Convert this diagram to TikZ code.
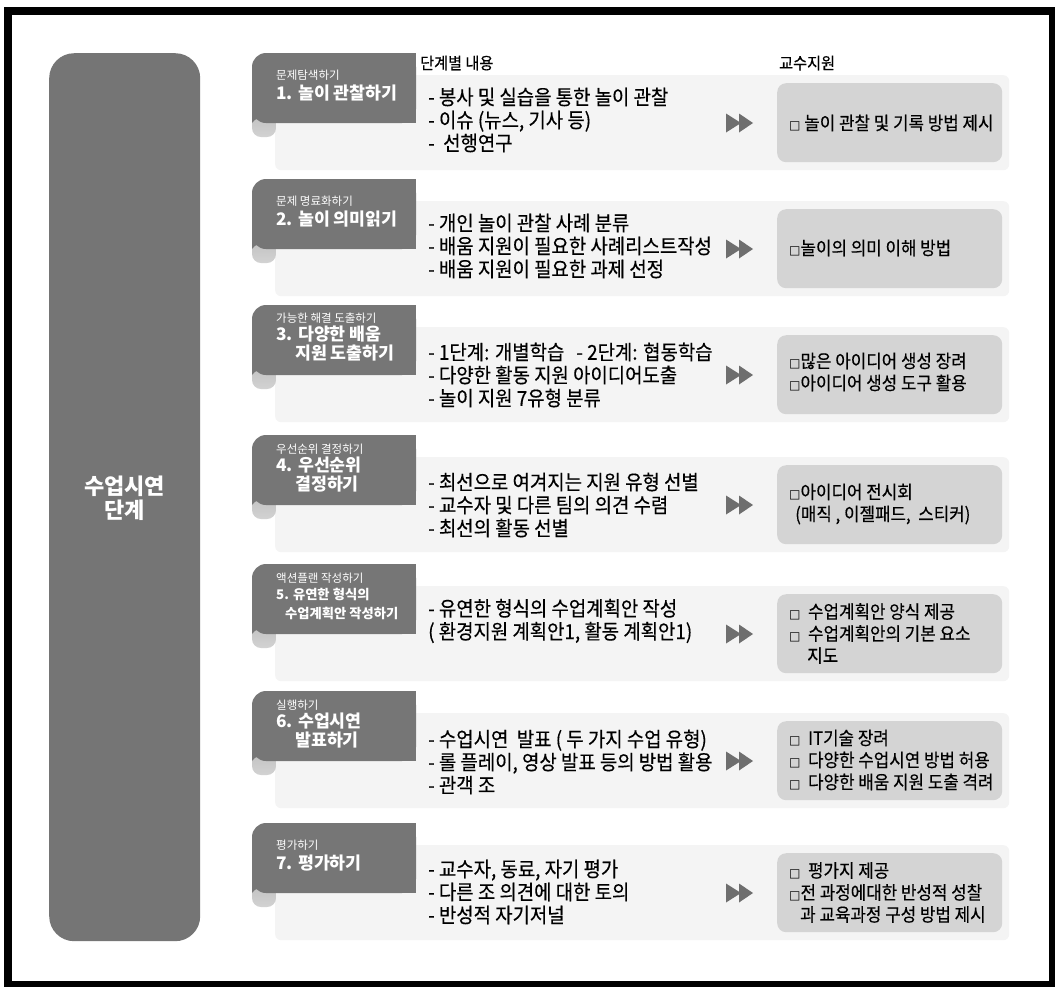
\documentclass[tikz,border=0pt]{standalone}
\usepackage{fontspec}
\setmainfont{Noto Sans CJK KR}
\newfontfamily\krc{Noto Sans CJK KR}[FakeStretch=0.92, FakeBold=0.35]
\newfontfamily\symf{DejaVu Sans}
\definecolor{tabc}{HTML}{767676}
\definecolor{pillc}{HTML}{757575}
\definecolor{boxc}{HTML}{F4F4F4}
\definecolor{ibc}{HTML}{D4D4D4}
\definecolor{arrc}{HTML}{6E6E6E}
\newcommand\sq{{\symf\fontsize{12}{12}\selectfont □}}
\newcommand\rowshapes[2]{%
  \node[cbox, anchor=north west] (box#2) at (275,#1+22) {};
  \node[ibox, anchor=north west] (ibox#2) at (777,#1+30) {};
  \shade[top color=gray!55, middle color=white, bottom color=gray!35, rounded corners=9pt]
    (252,#1+50) rectangle (276,#1+84);
  \fill[tabc, rounded corners=14pt] (252,#1) rectangle (416,#1+70);
  \fill[tabc] (300,#1) rectangle (416,#1+70);
  \fill[tabc] (275,#1+30) rectangle (416,#1+70);
  \fill[tabc] (252,#1+30) -- (276,#1+30) -- (276,#1+66) .. controls (266,#1+62) and (257,#1+63) .. (252,#1+70) -- cycle;
  \fill[arrc] (726,#1+60.5) -- (741,#1+70) -- (726,#1+79.5) -- cycle;
  \fill[arrc] (739,#1+60.5) -- (753,#1+70) -- (739,#1+79.5) -- cycle;
}
\begin{document}
\begin{tikzpicture}[x=1pt,y=-1pt,
  cbox/.style={fill=boxc, rounded corners=6pt, minimum width=734pt, minimum height=95pt, inner sep=0pt},
  ibox/.style={fill=ibc, rounded corners=9pt, minimum width=225pt, minimum height=79pt, inner sep=0pt},
  sub/.style={anchor=west, inner sep=0pt, text=white, font=\fontsize{11.5}{13}\selectfont},
  ttl/.style={anchor=west, inner sep=0pt, text=white, align=left, font=\bfseries\fontsize{17.3}{19}\selectfont},
  ttls/.style={anchor=west, inner sep=0pt, text=white, align=left, font=\bfseries\fontsize{13.3}{19}\selectfont},
  cont/.style={anchor=west, inner sep=0pt, align=left, font=\krc\fontsize{20.5}{23}\selectfont},
  itxt/.style={anchor=west, inner sep=0pt, align=left, font=\krc\fontsize{18.3}{22}\selectfont},
  head/.style={anchor=west, inner sep=0pt, font=\krc\fontsize{16.5}{18}\selectfont}]
\useasboundingbox (0,0) rectangle (1055,986);
\fill[white] (0,0) rectangle (1055,986);
\draw[line width=8pt] (8,11) rectangle (1053,985);

% left pill
\node[fill=pillc, rounded corners=25pt, minimum width=151pt, minimum height=888pt, inner sep=0pt, anchor=north west] (pill) at (49,53) {};
\node[text=white, align=center, font=\bfseries\fontsize{22}{24}\selectfont] (pilltxt) at (124.5,498) {수업시연\\단계};

% headers
\node[head] (h1) at (420,63) {단계별 내용};
\node[head] (h2) at (779,63) {교수지원};

% rows
\rowshapes{53}{1}
\rowshapes{179}{2}
\rowshapes{305}{3}
\rowshapes{435}{4}
\rowshapes{564}{5}
\rowshapes{691}{6}
\rowshapes{823}{7}

% row 1
\node[sub] (s1) at (276,75) {문제탐색하기};
\node[ttl] (t1) at (276,93) {1. 놀이 관찰하기};
\node[cont] (c1) at (428,120) {- 봉사 및 실습을 통한 놀이 관찰\\- 이슈 (뉴스, 기사 등)\\-\ \ 선행연구};
\node[itxt] (i1) at (789,123) {\sq\ 놀이 관찰 및 기록 방법 제시};

% row 2
\node[sub] (s2) at (276,201) {문제 명료화하기};
\node[ttl] (t2) at (276,219) {2. 놀이 의미읽기};
\node[cont] (c2) at (428,246) {- 개인 놀이 관찰 사례 분류\\- 배움 지원이 필요한 사례리스트작성\\- 배움 지원이 필요한 과제 선정};
\node[itxt] (i2) at (789,248) {\sq 놀이의 의미 이해 방법};

% row 3
\node[sub] (s3) at (276,318) {가능한 해결 도출하기};
\node[ttl] (t3) at (276,344) {3. 다양한 배움\\\hspace*{19pt}지원 도출하기};
\node[cont] (c3) at (428,375) {- 1단계: 개별학습\hspace{12pt}- 2단계: 협동학습\\- 다양한 활동 지원 아이디어도출\\- 놀이 지원 7유형 분류};
\node[itxt] (i3) at (789,372) {\sq 많은 아이디어 생성 장려\\\sq 아이디어 생성 도구 활용};

% row 4
\node[sub] (s4) at (276,449) {우선순위 결정하기};
\node[ttl] (t4) at (276,475) {4. 우선순위\\\hspace*{19pt}결정하기};
\node[cont] (c4) at (428,505) {- 최선으로 여겨지는 지원 유형 선별\\- 교수자 및 다른 팀의 의견 수렴\\- 최선의 활동 선별};
\node[itxt] (i4) at (789,504) {\sq 아이디어 전시회\\\hspace*{6pt}(매직 , 이젤패드,\ \ 스티커)};

% row 5
\node[sub] (s5) at (276,578) {액션플랜 작성하기};
\node[ttls] (t5) at (276,603.5) {5. 유연한 형식의\\\hspace*{9pt}수업계획안 작성하기};
\node[cont] (c5) at (428,621) {- 유연한 형식의 수업계획안 작성\\( 환경지원 계획안1, 활동 계획안1)};
\node[itxt] (i5) at (789,633.5) {\sq\ \ 수업계획안 양식 제공\\\sq\ \ 수업계획안의 기본 요소\\\hspace*{18pt}지도};

% row 6
\node[sub] (s6) at (276,705) {실행하기};
\node[ttl] (t6) at (276,731) {6. 수업시연\\\hspace*{19pt}발표하기};
\node[cont] (c6) at (428,762) {- 수업시연\ \ 발표 ( 두 가지 수업 유형)\\- 롤 플레이, 영상 발표 등의 방법 활용\\- 관객 조};
\node[itxt] (i6) at (789,760) {\sq\ \ IT기술 장려\\\sq\ \ 다양한 수업시연 방법 허용\\\sq\ \ 다양한 배움 지원 도출 격려};

% row 7
\node[sub] (s7) at (276,845) {평가하기};
\node[ttl] (t7) at (276,863) {7. 평가하기};
\node[cont] (c7) at (428,892) {- 교수자, 동료, 자기 평가\\- 다른 조 의견에 대한 토의\\- 반성적 자기저널};
\node[itxt] (i7) at (789,892.5) {\sq\ \ 평가지 제공\\\sq 전 과정에대한 반성적 성찰\\\hspace*{11pt}과 교육과정 구성 방법 제시};
\end{tikzpicture}
\end{document}
